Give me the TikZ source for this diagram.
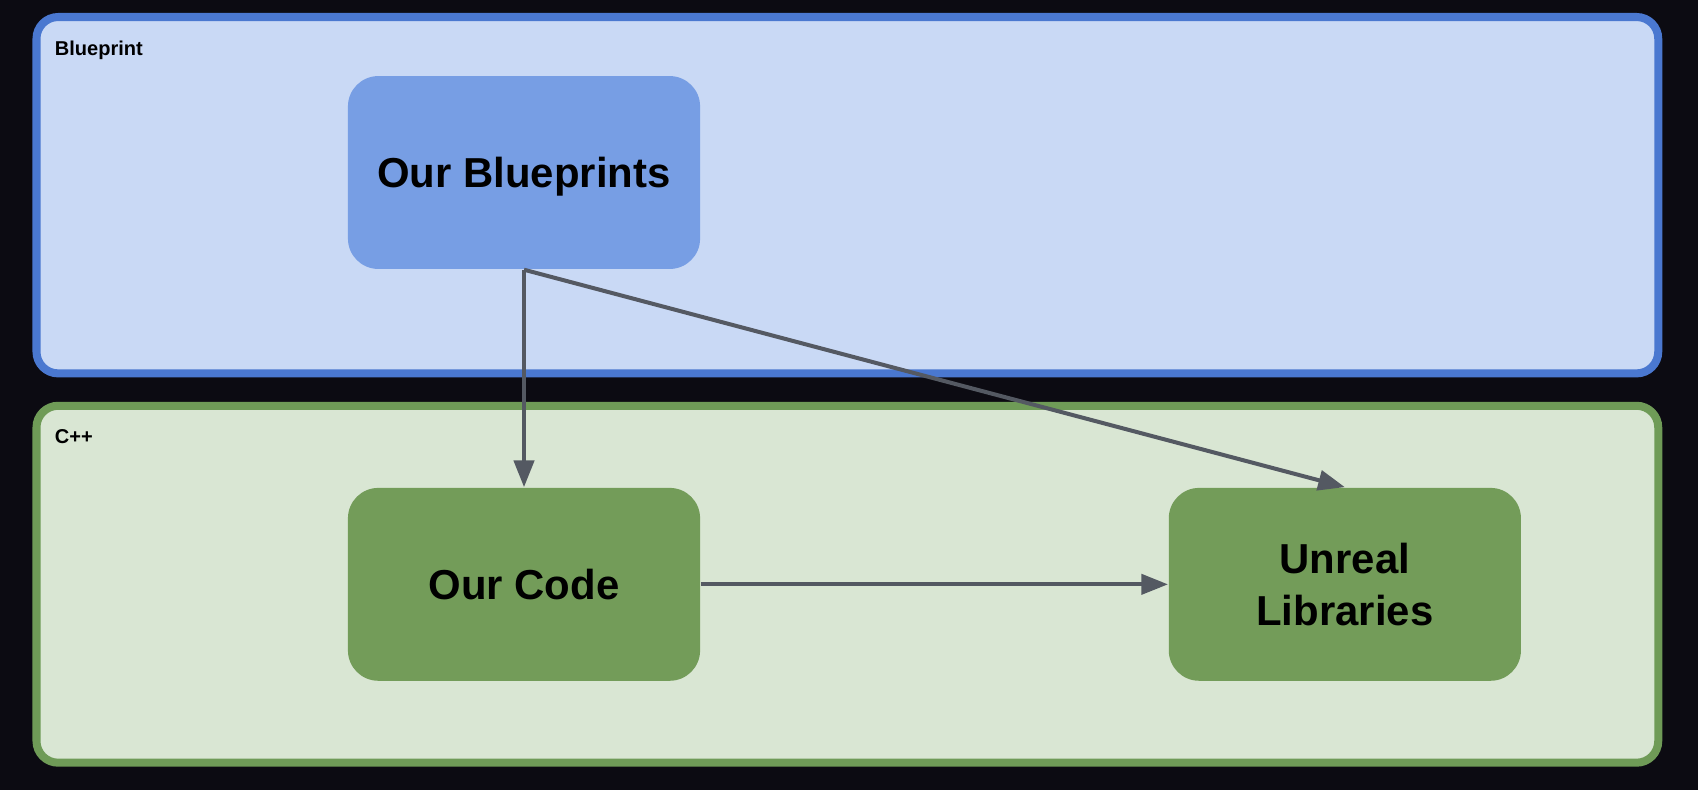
\documentclass[tikz,border=0pt]{standalone}
\usepackage{fontspec}
\setmainfont{Liberation Sans}
\usetikzlibrary{arrows.meta}
\definecolor{bgdark}{HTML}{0C0B12}
\definecolor{bpborder}{HTML}{4A78D0}
\definecolor{bpfill}{HTML}{C9D9F5}
\definecolor{bpnode}{HTML}{779EE4}
\definecolor{cpborder}{HTML}{6F9B57}
\definecolor{cpfill}{HTML}{D9E6D3}
\definecolor{cpnode}{HTML}{739C59}
\definecolor{arrowgray}{HTML}{545962}
\tikzset{
  group/.style={line width=0.074cm, rounded corners=0.2cm},
  grouplabel/.style={anchor=base west, inner sep=0pt, font=\fontsize{5.26pt}{6.3pt}\selectfont\bfseries},
  box/.style={rounded corners=0.28cm, minimum width=3.25cm, minimum height=1.78cm, inner sep=0pt, align=center, text=black,
    font=\fontsize{11pt}{13.77pt}\selectfont\bfseries},
  conn/.style={draw=arrowgray, line width=0.037cm, -{Triangle[length=0.246cm,width=0.185cm]}}
}
\begin{document}
\begin{tikzpicture}[x=0.01cm,y=-0.01cm]
\useasboundingbox (0,0) rectangle (1568,729.5);
\fill[bgdark] (0,0) rectangle (1568,729.5);
% group containers
\draw[group, draw=bpborder, fill=bpfill] (33.7,15.7) rectangle (1531.3,344.8);
\draw[group, draw=cpborder, fill=cpfill] (33.7,374.7) rectangle (1531.3,704.3);
\node[grouplabel] (lblbp) at (50,50.8) {Blueprint};
\node[grouplabel] (lblcpp) at (50,409.4) {C++};
% nodes
\node[box, fill=bpnode, text depth=0pt] (bp) at (483.9,159.3) {Our Blueprints};
\node[box, fill=cpnode] (code) at (483.9,539.6) {Our Code};
\node[box, fill=cpnode] (ul) at (1241.9,539.6) {Unreal\\Libraries};
% connectors
\draw[conn] (bp.south) -- (code.north);
\draw[conn] (bp.south) -- (ul.north);
\draw[conn] (code.east) -- (ul.west);
\end{tikzpicture}
\end{document}
